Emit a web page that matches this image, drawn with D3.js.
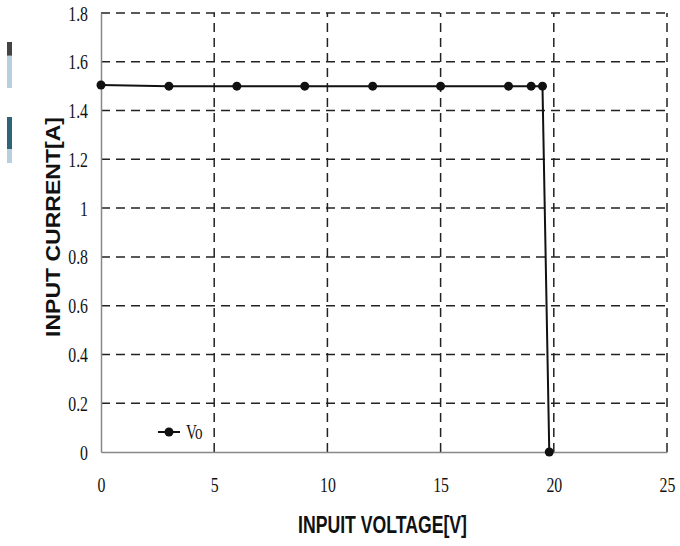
<!DOCTYPE html>
<html>
<head>
<meta charset="utf-8">
<script src="https://cdn.jsdelivr.net/npm/d3@7"></script>
<style>
  body { margin: 0; background: #fff; }
</style>
</head>
<body>
<div id="chart"></div>
<script>
// data
const voltage = [0, 3, 6, 9, 12, 15, 18, 19, 19.5, 19.8];
const current = [1.505, 1.5, 1.5, 1.5, 1.5, 1.5, 1.5, 1.5, 1.5, 0];
const xTicks = [0, 5, 10, 15, 20, 25];
const yTicks = [0, 0.2, 0.4, 0.6, 0.8, 1, 1.2, 1.4, 1.6, 1.8];
const seriesName = "Vo";

const width = 680, height = 546;
const margin = { left: 101, right: 13, top: 13, bottom: 94 };
const squeeze = 0.72; // the tick digits are a narrow serif

const svg = d3.select("#chart").append("svg")
    .attr("width", width)
    .attr("height", height);

// small stray marks at the left edge of the original
const strays = [
    { y: 42, h: 46, top: "#444", bottom: "#b8cfe0", split: 0.3 },
    { y: 117, h: 46, top: "#2f6477", bottom: "#b8cfe0", split: 0.7 }
];
strays.forEach(s => {
    svg.append("rect").attr("x", 7).attr("y", s.y).attr("width", 5).attr("height", s.h * s.split).attr("fill", s.top);
    svg.append("rect").attr("x", 7).attr("y", s.y + s.h * s.split).attr("width", 5).attr("height", s.h * (1 - s.split)).attr("fill", s.bottom);
});

const x = d3.scaleLinear()
    .domain([0, 25])
    .range([margin.left, width - margin.right]);

const y = d3.scaleLinear()
    .domain([0, 1.8])
    .range([height - margin.bottom, margin.top]);

// dashed grid
svg.append("g")
    .selectAll("line")
    .data(yTicks.filter(d => d > 0))
    .enter().append("line")
    .attr("x1", x(0)).attr("x2", x(25))
    .attr("y1", d => y(d)).attr("y2", d => y(d))
    .attr("stroke", "#222")
    .attr("stroke-width", 1.5)
    .attr("stroke-dasharray", "9,6");

svg.append("g")
    .selectAll("line")
    .data(xTicks.filter(d => d > 0))
    .enter().append("line")
    .attr("x1", d => x(d)).attr("x2", d => x(d))
    .attr("y1", y(0)).attr("y2", y(1.8))
    .attr("stroke", "#222")
    .attr("stroke-width", 1.5)
    .attr("stroke-dasharray", "9,6");

function styleTicks(g) {
    g.attr("font-family", "Liberation Serif, serif").attr("font-size", 22);
    g.selectAll("text").attr("fill", "#111");
    g.select(".domain").attr("stroke", "#888").attr("stroke-width", 1.5);
}

// axes
svg.append("g")
    .attr("transform", `translate(0,${y(0)})`)
    .call(d3.axisBottom(x).tickValues(xTicks).tickSize(0).tickPadding(24))
    .call(styleTicks)
    .call(g => g.selectAll("text").attr("transform", `scale(${squeeze},1)`));

svg.append("g")
    .attr("transform", `translate(${x(0)},0)`)
    .call(d3.axisLeft(y).tickValues(yTicks).tickSize(0).tickFormat(d3.format("~g")))
    .call(styleTicks)
    .call(g => g.selectAll("text")
        .attr("x", -13 / squeeze)
        .attr("transform", `scale(${squeeze},1)`));

// series
const pts = voltage.map((v, i) => ({ v, c: current[i] }));

svg.append("path")
    .datum(pts)
    .attr("fill", "none")
    .attr("stroke", "#111")
    .attr("stroke-width", 2)
    .attr("d", d3.line().x(d => x(d.v)).y(d => y(d.c)));

svg.selectAll(".dot")
    .data(pts)
    .enter().append("circle")
    .attr("class", "dot")
    .attr("cx", d => x(d.v))
    .attr("cy", d => y(d.c))
    .attr("r", 4.5)
    .attr("fill", "#111");

// legend
const lg = svg.append("g").attr("transform", "translate(158,432)");
lg.append("line").attr("x1", 0).attr("x2", 22).attr("stroke", "#111").attr("stroke-width", 2);
lg.append("circle").attr("cx", 11).attr("r", 4.5).attr("fill", "#111");
lg.append("text")
    .attr("transform", `translate(28,7) scale(${squeeze},1)`)
    .attr("font-family", "Liberation Serif, serif")
    .attr("font-size", 21)
    .attr("fill", "#111")
    .text(seriesName);

// axis titles
svg.append("text")
    .attr("x", 298).attr("y", 533)
    .attr("textLength", 169)
    .attr("lengthAdjust", "spacingAndGlyphs")
    .attr("font-family", "Liberation Sans, Arial, sans-serif")
    .attr("font-weight", "bold")
    .attr("font-size", 24)
    .attr("fill", "#111")
    .text("INPUIT VOLTAGE[V]");

svg.append("text")
    .attr("transform", "translate(60,337) rotate(-90)")
    .attr("textLength", 220)
    .attr("lengthAdjust", "spacingAndGlyphs")
    .attr("font-family", "Liberation Sans, Arial, sans-serif")
    .attr("font-weight", "bold")
    .attr("font-size", 21)
    .attr("fill", "#111")
    .text("INPUT CURRENT[A]");
</script>
</body>
</html>
